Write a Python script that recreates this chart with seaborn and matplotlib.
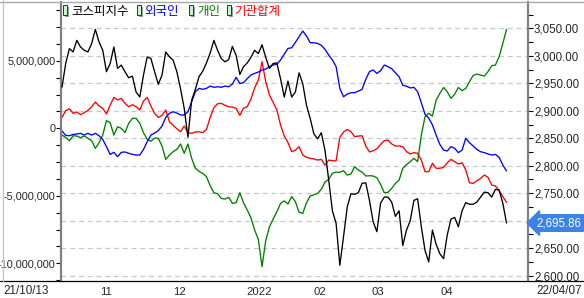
import numpy as np
import pandas as pd
import matplotlib
matplotlib.use("Agg")
import matplotlib.pyplot as plt
import matplotlib.transforms as mtransforms
from matplotlib.patches import Rectangle
from matplotlib.lines import Line2D
from matplotlib.ticker import FixedLocator, MultipleLocator, FuncFormatter
import seaborn as sns

# ---------------- data ----------------
holidays = ["2021-12-31", "2022-01-31", "2022-02-01", "2022-02-02", "2022-03-01", "2022-03-09"]
dates = [d for d in pd.bdate_range("2021-10-13", "2022-04-07") if d.strftime("%Y-%m-%d") not in holidays]

kospi = [2943, 2986, 3013, 3007, 3028, 3016, 3010, 3007, 3022, 3048,
         3025, 3010, 2971, 2986, 3016, 2977, 2983, 2971, 2960, 2963,
         2934, 2925, 2965, 2998, 2995, 2971, 2948, 2965, 3007, 2998,
         2992, 2971, 2940, 2904, 2852, 2919, 2939, 2962, 2972, 2987,
         3005, 3028, 3010, 2995, 2989, 2993, 3017, 3001, 2966, 2980,
         2987, 2997, 3010, 3004, 3020, 2997, 2977, 2986, 2987, 2958,
         2925, 2954, 2925, 2934, 2969, 2949, 2910, 2886, 2858, 2849,
         2860, 2828, 2774, 2718, 2695, 2619, 2671, 2725, 2749, 2748,
         2751, 2768, 2769, 2737, 2698, 2680, 2732, 2743, 2743, 2734,
         2708, 2718, 2655, 2683, 2700, 2737, 2740, 2689, 2646, 2625,
         2683, 2657, 2640, 2631, 2674, 2703, 2706, 2689, 2718, 2733,
         2730, 2730, 2734, 2743, 2752, 2751, 2743, 2757, 2756, 2732,
         2695.86]

# net buying, millions
foreign_m = [-0.20, -0.52, -0.55, -0.45, -0.42, -0.37, -0.50, -0.37, -0.50, -0.37,
             -0.55, -0.82, -1.36, -1.93, -1.78, -2.10, -1.78, -1.75, -1.85, -1.93,
             -1.98, -1.98, -1.56, -0.99, -0.50, -0.35, -0.17, 0.17, 0.81, 1.11,
             1.23, 1.13, 0.99, 0.99, 1.23, 1.97, 2.71, 2.96, 2.89, 2.96,
             3.13, 3.04, 3.08, 3.04, 3.13, 3.08, 3.28, 3.78, 3.33, 3.38,
             3.68, 3.95, 4.07, 4.17, 4.32, 4.39, 4.57, 4.69, 4.76, 5.06,
             5.50, 5.92, 5.97, 6.37, 6.79, 7.21, 6.84, 6.34, 6.34, 6.29,
             6.15, 5.85, 5.43, 5.06, 4.57, 2.96, 2.34, 2.54, 2.64, 2.64,
             2.76, 2.89, 3.63, 4.20, 4.32, 4.07, 4.27, 4.69, 4.57, 4.42,
             4.12, 3.82, 3.18, 3.13, 2.99, 3.04, 2.71, 1.90, 1.04, 0.76,
             0.25, -0.50, -1.19, -1.61, -1.68, -1.36, -1.48, -1.80, -1.61, -0.74,
             -1.06, -1.31, -1.56, -1.73, -1.80, -1.90, -1.98, -1.93, -2.15, -2.72,
             -3.16]

individual_m = [-0.50, -0.67, -0.92, -0.55, -0.57, -0.69, -0.57, -0.74, -0.92, -1.48,
                -1.06, -0.50, 0.57, 0.42, -0.50, 0.12, 0.00, -0.32, 0.37, 0.74,
                0.74, 0.37, -0.32, -0.82, -0.96, -0.72, -0.74, -1.31, -2.30, -1.98,
                -1.73, -1.56, -1.16, -1.85, -1.16, -2.22, -2.96, -3.19, -3.34, -3.58,
                -4.25, -4.77, -4.84, -5.19, -5.24, -5.11, -5.56, -5.51, -4.77, -5.51,
                -6.05, -6.62, -7.53, -8.22, -10.25, -8.32, -7.29, -6.72, -6.18, -5.56,
                -5.38, -5.61, -5.06, -5.43, -6.22, -6.30, -5.51, -5.01, -4.92, -4.82,
                -4.52, -3.98, -3.78, -3.33, -3.24, -3.26, -3.14, -3.46, -3.38, -2.84,
                -3.09, -3.24, -3.53, -3.51, -3.53, -3.66, -4.15, -4.77, -4.74, -4.45,
                -4.08, -3.83, -2.96, -2.69, -2.47, -2.22, -2.47, -0.50, 0.86, 1.11,
                0.91, 2.10, 2.59, 3.03, 2.71, 2.22, 2.52, 3.03, 2.79, 2.96,
                3.45, 3.92, 4.02, 3.95, 3.87, 4.20, 4.64, 4.69, 5.31, 6.29,
                7.33]

institution_m = [0.81, 1.31, 1.45, 1.11, 1.21, 1.01, 1.16, 1.33, 1.60, 1.95,
                 1.65, 1.48, 1.06, 1.73, 2.29, 2.10, 2.22, 1.85, 1.60, 1.75,
                 1.60, 1.36, 2.02, 2.29, 1.65, 1.11, 0.81, 0.96, 1.36, 0.49,
                 0.22, -0.03, -0.25, 0.17, -0.32, -0.37, -0.27, -0.25, -0.32, -0.08,
                 0.81, 1.53, 1.82, 1.85, 1.70, 1.60, 1.58, 1.48, 0.96, 1.50,
                 1.60, 2.17, 2.99, 3.58, 4.94, 3.45, 2.47, 1.92, 1.36, 0.24,
                 -0.57, -1.06, -1.73, -1.61, -1.36, -1.98, -2.15, -2.22, -2.27, -2.35,
                 -2.30, -2.72, -2.35, -2.40, -2.40, -0.67, -0.27, -0.08, -0.25, -0.62,
                 -0.57, -0.55, -1.31, -1.75, -1.66, -1.51, -1.19, -0.92, -0.87, -1.16,
                 -1.31, -1.31, -1.36, -1.73, -1.90, -1.80, -1.85, -2.35, -3.21, -3.21,
                 -2.59, -2.96, -2.96, -2.89, -2.55, -2.30, -2.47, -2.64, -2.55, -3.09,
                 -4.03, -4.08, -3.88, -3.71, -3.46, -3.63, -4.20, -4.27, -4.62, -5.06,
                 -5.48]

series_names = ["코스피지수", "외국인", "개인", "기관합계"]
series_colors = ["#000000", "#0000ff", "#008000", "#ff0000"]
month_tick_pos = [10.0, 29.7, 49.4, 67.5, 83.1, 101.8]
month_labels = ["11", "12", "2022", "02", "03", "04"]
left_ticks = [5_000_000, 0, -5_000_000, -10_000_000]
right_ticks = list(range(2600, 3051, 50))

df = pd.DataFrame({
    "pos": np.arange(len(dates)),
    "date": dates,
    "kospi": kospi,
    "foreign": np.array(foreign_m) * 1e6,
    "individual": np.array(individual_m) * 1e6,
    "institution": np.array(institution_m) * 1e6,
})

# ---------------- style ----------------
sns.set_style("white")
plt.rcParams["font.family"] = ["Liberation Sans", "Noto Sans CJK KR", "DejaVu Sans"]
plt.rcParams["axes.unicode_minus"] = False

W, H = 584, 298
fig = plt.figure(figsize=(W / 100, H / 100), dpi=100)
rect = [61 / W, 17 / H, 467 / W, 279 / H]

xlim = (-0.27, 125.8)
ylim_left = (-11.31e6, 9.36e6)
ylim_right = (2590.4, 3097.8)

# background axes for the dashed grid (right-axis scale)
axg = fig.add_axes(rect, zorder=0)
axg.set_xlim(*xlim)
axg.set_ylim(*ylim_right)
for v in right_ticks:
    axg.axhline(v, color="#c8c8c8", lw=0.9, ls=(0, (4, 3)))
axg.set_xticks([]); axg.set_yticks([])
for s in axg.spines.values():
    s.set_visible(False)

ax = fig.add_axes(rect, zorder=1)
ax.patch.set_visible(False)
ax2 = ax.twinx()
ax2.patch.set_visible(False)

lw = 0.95
sns.lineplot(data=df, x="pos", y="individual", ax=ax, color=series_colors[2], lw=lw, legend=False)
sns.lineplot(data=df, x="pos", y="institution", ax=ax, color=series_colors[3], lw=lw, legend=False)
sns.lineplot(data=df, x="pos", y="foreign", ax=ax, color=series_colors[1], lw=lw, legend=False)
sns.lineplot(data=df, x="pos", y="kospi", ax=ax2, color=series_colors[0], lw=lw, legend=False)

ax.set_xlim(*xlim)
ax.set_ylim(*ylim_left)
ax2.set_ylim(*ylim_right)
ax.set_xlabel(""); ax.set_ylabel(""); ax2.set_ylabel("")

# spines
for a in (ax, ax2):
    for s in a.spines.values():
        s.set_visible(False)
ax.spines["left"].set_visible(True)
ax.spines["left"].set_color("#808080")
ax.spines["left"].set_linewidth(1.6)
ax2.spines["right"].set_visible(True)
ax2.spines["right"].set_color("#808080")
ax2.spines["right"].set_linewidth(1.6)

fs = 7.8
# left ticks
ax.yaxis.set_major_locator(FixedLocator(left_ticks))
ax.yaxis.set_minor_locator(MultipleLocator(1_250_000))
ax.yaxis.set_major_formatter(FuncFormatter(lambda v, p: f"{v:,.0f}"))
ax.tick_params(axis="y", which="both", direction="out", length=3.5, width=0.8,
               color="black", pad=0.3, labelsize=fs)
# right ticks (the last-value box covers the 2,700.00 label)
last_val = kospi[-1]
ax2.yaxis.set_major_locator(FixedLocator(right_ticks))
ax2.yaxis.set_minor_locator(MultipleLocator(25))
ax2.yaxis.set_major_formatter(FuncFormatter(
    lambda v, p: "" if abs(v - last_val) < 15 else f"{v:,.2f}"))
ax2.tick_params(axis="y", which="both", direction="out", length=3.5, width=0.8,
                color="black", pad=0.8, labelsize=8.3)
# x ticks
ax.set_xticks(month_tick_pos)
ax.set_xticklabels(month_labels, ha="left")
ax.tick_params(axis="x", direction="out", length=4, width=0.8, color="black",
               pad=0.5, labelsize=8.1)
for lab in ax.get_xticklabels():
    lab.set_transform(lab.get_transform() + mtransforms.ScaledTranslation(1.5 / 100, 0, fig.dpi_scale_trans))

# frame lines around the figure
fig.add_artist(Line2D([0, 1], [(H - 281) / H] * 2, color="black", lw=0.9, transform=fig.transFigure))
fig.add_artist(Line2D([0, 1], [(H - 1.5) / H] * 2, color="#a8a8a8", lw=1.0, transform=fig.transFigure))
fig.add_artist(Line2D([2.5 / W] * 2, [(H - 281) / H, 1], color="#c8c8c8", lw=1.0, transform=fig.transFigure))

# first / last date labels
fig.text(3 / W, (H - 291) / H, dates[0].strftime("%y/%m/%d"), ha="left", va="center", fontsize=8.4)
fig.text(582 / W, (H - 291) / H, dates[-1].strftime("%y/%m/%d"), ha="right", va="center", fontsize=8.4)

# last value marker
trans = mtransforms.blended_transform_factory(ax2.transAxes, ax2.transData)
ax2.text(1.0 + 8 / 467, last_val, f"{last_val:,.2f}", transform=trans, ha="left", va="center",
         color="white", fontsize=8.3,
         bbox=dict(boxstyle="larrow,pad=0.2", fc="#3d82e6", ec="#3d82e6"), clip_on=False, zorder=5)

# legend
icon_x = [63, 137, 189, 227]
text_x = [71, 144, 197, 234]
ly = (H - 11) / H
for ix, tx, name, col in zip(icon_x, text_x, series_names, series_colors):
    fig.add_artist(Rectangle((ix / W + 2 / W, (H - 17) / H), 4 / W, 10 / H, transform=fig.transFigure,
                             fc="#9a9a9a", ec="none"))
    fig.add_artist(Rectangle((ix / W, (H - 15) / H), 4 / W, 10 / H, transform=fig.transFigure,
                             fc="#c8f5c8", ec="#303030", lw=0.7))
    fig.text(tx / W, ly, name, color=col, ha="left", va="center", fontsize=9,
             family=["Noto Sans CJK KR", "DejaVu Sans"])

fig.savefig("out.png", dpi=100)
